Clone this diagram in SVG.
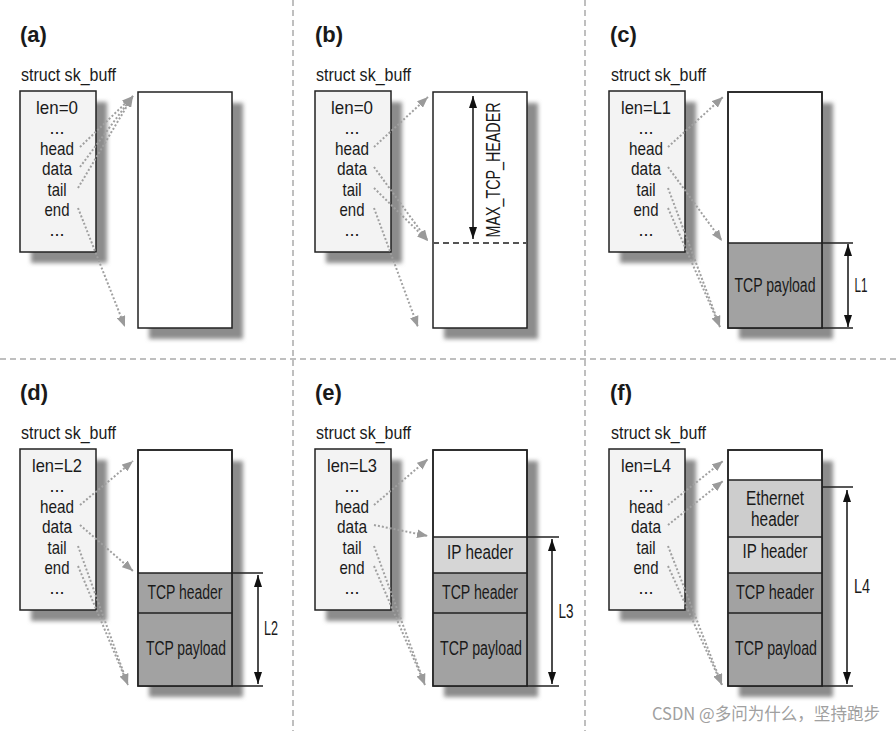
<svg xmlns="http://www.w3.org/2000/svg" width="896" height="731" viewBox="0 0 896 731">
<style>
text{font-family:"Liberation Sans Narrow","Liberation Sans",Arial,sans-serif;font-size:20px;fill:#1a1a1a}
.fld text{font-size:19px}
.lbl{font-weight:bold;font-size:22px}
.c{text-anchor:middle}
.box{fill:#f3f3f3;stroke:#222;stroke-width:1.5}
.buf{fill:#fff;stroke:#222;stroke-width:1.5}
.sh{fill:#8c8c8c;filter:url(#blur)}
.ln{stroke:#222;stroke-width:1.5;fill:none}
.dim{stroke:#111;stroke-width:1.5;fill:none;marker-start:url(#dh);marker-end:url(#dh)}
.tcp{fill:#a2a2a2}
.ip{fill:#d6d6d6}
.eth{fill:#cdcdcd}
.sep{stroke:#aaa;stroke-width:1.5;stroke-dasharray:6 4;fill:none}
.ptr{stroke:#a0a0a0;stroke-width:2;stroke-dasharray:2 2;fill:none;marker-end:url(#ah)}
.wm{font-family:"Noto Sans CJK SC",sans-serif;font-size:17px;fill:#a0a0a0}
</style>
<defs>
<filter id="blur" x="-20%" y="-20%" width="140%" height="140%"><feGaussianBlur stdDeviation="2"/></filter>
<marker id="ah" viewBox="0 0 10 8" refX="10" refY="4" markerWidth="11" markerHeight="9" markerUnits="userSpaceOnUse" orient="auto"><path d="M0,0 L10,4 L0,8 z" fill="#9a9a9a"/></marker>
<marker id="dh" viewBox="0 0 12 8" refX="12" refY="4" markerWidth="12" markerHeight="8" markerUnits="userSpaceOnUse" orient="auto-start-reverse"><path d="M0,0 L12,4 L0,8 z" fill="#111"/></marker>
</defs>
<rect width="896" height="731" fill="#fff"/>

<g id="separators">
<path class="sep" d="M293,0 V731 M585,0 V731 M0,359 H896"/>
</g>

<!-- Panel a -->
<g id="a-label"><text class="lbl" x="20" y="42">(a)</text></g>
<g id="a-struct" class="fld">
<text x="21" y="81" textLength="95" lengthAdjust="spacingAndGlyphs">struct sk_buff</text>
<rect class="sh" x="31" y="102" width="76" height="161"/>
<rect class="box" x="20" y="91" width="76" height="161"/>
<text class="c" x="57" y="114" textLength="42" lengthAdjust="spacingAndGlyphs">len=0</text>
<text class="c" x="57" y="134" textLength="15" lengthAdjust="spacingAndGlyphs">...</text>
<text class="c" x="57" y="155" textLength="34" lengthAdjust="spacingAndGlyphs">head</text>
<text class="c" x="57" y="175" textLength="30" lengthAdjust="spacingAndGlyphs">data</text>
<text class="c" x="57" y="196" textLength="19" lengthAdjust="spacingAndGlyphs">tail</text>
<text class="c" x="57" y="216" textLength="25" lengthAdjust="spacingAndGlyphs">end</text>
<text class="c" x="57" y="236" textLength="15" lengthAdjust="spacingAndGlyphs">...</text>
</g>
<g id="a-buffer">
<rect class="sh" x="149" y="103" width="94" height="236"/>
<rect class="buf" x="138" y="92" width="94" height="236"/>
</g>

<!-- Panel b -->
<g id="b-label"><text class="lbl" x="315" y="42">(b)</text></g>
<g id="b-struct" class="fld">
<text x="316" y="81" textLength="95" lengthAdjust="spacingAndGlyphs">struct sk_buff</text>
<rect class="sh" x="326" y="102" width="76" height="161"/>
<rect class="box" x="315" y="91" width="76" height="161"/>
<text class="c" x="352" y="114" textLength="42" lengthAdjust="spacingAndGlyphs">len=0</text>
<text class="c" x="352" y="134" textLength="15" lengthAdjust="spacingAndGlyphs">...</text>
<text class="c" x="352" y="155" textLength="34" lengthAdjust="spacingAndGlyphs">head</text>
<text class="c" x="352" y="175" textLength="30" lengthAdjust="spacingAndGlyphs">data</text>
<text class="c" x="352" y="196" textLength="19" lengthAdjust="spacingAndGlyphs">tail</text>
<text class="c" x="352" y="216" textLength="25" lengthAdjust="spacingAndGlyphs">end</text>
<text class="c" x="352" y="236" textLength="15" lengthAdjust="spacingAndGlyphs">...</text>
</g>
<g id="b-buffer">
<rect class="sh" x="444" y="103" width="94" height="236"/>
<rect class="buf" x="433" y="92" width="94" height="236"/>
<path d="M433,243 H527" stroke="#555" stroke-width="2" stroke-dasharray="6 4"/>
<path class="dim" d="M473,96 V239"/>
<text class="c" transform="translate(500,170) rotate(-90)" x="0" y="0" textLength="135" lengthAdjust="spacingAndGlyphs">MAX_TCP_HEADER</text>
</g>

<!-- Panel c -->
<g id="c-label"><text class="lbl" x="610" y="42">(c)</text></g>
<g id="c-struct" class="fld">
<text x="611" y="81" textLength="95" lengthAdjust="spacingAndGlyphs">struct sk_buff</text>
<rect class="sh" x="620" y="102" width="76" height="161"/>
<rect class="box" x="609" y="91" width="76" height="161"/>
<text class="c" x="646" y="114" textLength="50" lengthAdjust="spacingAndGlyphs">len=L1</text>
<text class="c" x="646" y="134" textLength="15" lengthAdjust="spacingAndGlyphs">...</text>
<text class="c" x="646" y="155" textLength="34" lengthAdjust="spacingAndGlyphs">head</text>
<text class="c" x="646" y="175" textLength="30" lengthAdjust="spacingAndGlyphs">data</text>
<text class="c" x="646" y="196" textLength="19" lengthAdjust="spacingAndGlyphs">tail</text>
<text class="c" x="646" y="216" textLength="25" lengthAdjust="spacingAndGlyphs">end</text>
<text class="c" x="646" y="236" textLength="15" lengthAdjust="spacingAndGlyphs">...</text>
</g>
<g id="c-buffer">
<rect class="sh" x="739" y="103" width="94" height="236"/>
<rect class="buf" x="728" y="92" width="94" height="236"/>
<rect class="tcp" x="728.75" y="243" width="92.5" height="84.25"/>
<path class="ln" d="M728,243 H853 M822,328 H853"/>
<rect class="ln" x="728" y="92" width="94" height="236"/>
<text class="c" x="775" y="292" textLength="81" lengthAdjust="spacingAndGlyphs">TCP payload</text>
<path class="dim" d="M848,244 V327"/>
<text class="c" x="861" y="292" textLength="13" lengthAdjust="spacingAndGlyphs">L1</text>
</g>

<!-- Panel d -->
<g id="d-label"><text class="lbl" x="20" y="400">(d)</text></g>
<g id="d-struct" class="fld">
<text x="21" y="439" textLength="95" lengthAdjust="spacingAndGlyphs">struct sk_buff</text>
<rect class="sh" x="31" y="460" width="76" height="161"/>
<rect class="box" x="20" y="449" width="76" height="161"/>
<text class="c" x="57" y="472" textLength="50" lengthAdjust="spacingAndGlyphs">len=L2</text>
<text class="c" x="57" y="492" textLength="15" lengthAdjust="spacingAndGlyphs">...</text>
<text class="c" x="57" y="513" textLength="34" lengthAdjust="spacingAndGlyphs">head</text>
<text class="c" x="57" y="533" textLength="30" lengthAdjust="spacingAndGlyphs">data</text>
<text class="c" x="57" y="554" textLength="19" lengthAdjust="spacingAndGlyphs">tail</text>
<text class="c" x="57" y="574" textLength="25" lengthAdjust="spacingAndGlyphs">end</text>
<text class="c" x="57" y="594" textLength="15" lengthAdjust="spacingAndGlyphs">...</text>
</g>
<g id="d-buffer">
<rect class="sh" x="149" y="461" width="94" height="236"/>
<rect class="buf" x="138" y="450" width="94" height="236"/>
<rect class="tcp" x="138.75" y="573" width="92.5" height="112.25"/>
<path class="ln" d="M138,573 H263 M138,613 H232 M232,686 H263"/>
<rect class="ln" x="138" y="450" width="94" height="236"/>
<text class="c" x="185" y="599" textLength="75" lengthAdjust="spacingAndGlyphs">TCP header</text>
<text class="c" x="186" y="655" textLength="80" lengthAdjust="spacingAndGlyphs">TCP payload</text>
<path class="dim" d="M258,575 V684"/>
<text class="c" x="271" y="635" textLength="14" lengthAdjust="spacingAndGlyphs">L2</text>
</g>

<!-- Panel e -->
<g id="e-label"><text class="lbl" x="315" y="400">(e)</text></g>
<g id="e-struct" class="fld">
<text x="316" y="439" textLength="95" lengthAdjust="spacingAndGlyphs">struct sk_buff</text>
<rect class="sh" x="326" y="460" width="76" height="161"/>
<rect class="box" x="315" y="449" width="76" height="161"/>
<text class="c" x="352" y="472" textLength="50" lengthAdjust="spacingAndGlyphs">len=L3</text>
<text class="c" x="352" y="492" textLength="15" lengthAdjust="spacingAndGlyphs">...</text>
<text class="c" x="352" y="513" textLength="34" lengthAdjust="spacingAndGlyphs">head</text>
<text class="c" x="352" y="533" textLength="30" lengthAdjust="spacingAndGlyphs">data</text>
<text class="c" x="352" y="554" textLength="19" lengthAdjust="spacingAndGlyphs">tail</text>
<text class="c" x="352" y="574" textLength="25" lengthAdjust="spacingAndGlyphs">end</text>
<text class="c" x="352" y="594" textLength="15" lengthAdjust="spacingAndGlyphs">...</text>
</g>
<g id="e-buffer">
<rect class="sh" x="444" y="461" width="94" height="236"/>
<rect class="buf" x="433" y="450" width="94" height="236"/>
<rect class="ip" x="433.75" y="537" width="92.5" height="36"/>
<rect class="tcp" x="433.75" y="573" width="92.5" height="112.25"/>
<path class="ln" d="M433,537 H559 M433,573 H527 M433,613 H527 M527,686 H559"/>
<rect class="ln" x="433" y="450" width="94" height="236"/>
<text class="c" x="480" y="559" textLength="66" lengthAdjust="spacingAndGlyphs">IP header</text>
<text class="c" x="480" y="599" textLength="76" lengthAdjust="spacingAndGlyphs">TCP header</text>
<text class="c" x="481" y="655" textLength="82" lengthAdjust="spacingAndGlyphs">TCP payload</text>
<path class="dim" d="M552,539 V684"/>
<text class="c" x="566" y="618" textLength="15" lengthAdjust="spacingAndGlyphs">L3</text>
</g>

<!-- Panel f -->
<g id="f-label"><text class="lbl" x="610" y="400">(f)</text></g>
<g id="f-struct" class="fld">
<text x="611" y="439" textLength="95" lengthAdjust="spacingAndGlyphs">struct sk_buff</text>
<rect class="sh" x="620" y="460" width="76" height="161"/>
<rect class="box" x="609" y="449" width="76" height="161"/>
<text class="c" x="646" y="472" textLength="50" lengthAdjust="spacingAndGlyphs">len=L4</text>
<text class="c" x="646" y="492" textLength="15" lengthAdjust="spacingAndGlyphs">...</text>
<text class="c" x="646" y="513" textLength="34" lengthAdjust="spacingAndGlyphs">head</text>
<text class="c" x="646" y="533" textLength="30" lengthAdjust="spacingAndGlyphs">data</text>
<text class="c" x="646" y="554" textLength="19" lengthAdjust="spacingAndGlyphs">tail</text>
<text class="c" x="646" y="574" textLength="25" lengthAdjust="spacingAndGlyphs">end</text>
<text class="c" x="646" y="594" textLength="15" lengthAdjust="spacingAndGlyphs">...</text>
</g>
<g id="f-buffer">
<rect class="sh" x="739" y="461" width="94" height="236"/>
<rect class="buf" x="728" y="450" width="94" height="236"/>
<rect class="eth" x="728.75" y="480" width="92.5" height="57"/>
<rect class="ip" x="728.75" y="537" width="92.5" height="36"/>
<rect class="tcp" x="728.75" y="573" width="92.5" height="112.25"/>
<path class="ln" d="M728,480 H822 M728,537 H822 M728,573 H822 M728,613 H822 M822,487 H853 M822,686 H853"/>
<rect class="ln" x="728" y="450" width="94" height="236"/>
<text class="c" x="775" y="505" textLength="58" lengthAdjust="spacingAndGlyphs">Ethernet</text>
<text class="c" x="775" y="526" textLength="48" lengthAdjust="spacingAndGlyphs">header</text>
<text class="c" x="775" y="558" textLength="65" lengthAdjust="spacingAndGlyphs">IP header</text>
<text class="c" x="775" y="599" textLength="78" lengthAdjust="spacingAndGlyphs">TCP header</text>
<text class="c" x="776" y="655" textLength="82" lengthAdjust="spacingAndGlyphs">TCP payload</text>
<path class="dim" d="M847,490 V684"/>
<text class="c" x="862" y="593" textLength="16" lengthAdjust="spacingAndGlyphs">L4</text>
</g>

<g id="connectors">
<path class="ptr" d="M80,147 L133,96"/>
<path class="ptr" d="M80,167 L133,96"/>
<path class="ptr" d="M78,188 L133,96"/>
<path class="ptr" d="M78,208 L125,327"/>
<path class="ptr" d="M374,147 L428,97"/>
<path class="ptr" d="M374,167 L428,241"/>
<path class="ptr" d="M374,188 L428,241"/>
<path class="ptr" d="M374,208 L418,327"/>
<path class="ptr" d="M668,147 L723,97"/>
<path class="ptr" d="M668,167 L722,241"/>
<path class="ptr" d="M668,188 L720,327"/>
<path class="ptr" d="M668,208 L720,327"/>
<path class="ptr" d="M80,505 L133,461"/>
<path class="ptr" d="M80,525 L133,571"/>
<path class="ptr" d="M78,546 L128,685"/>
<path class="ptr" d="M78,566 L128,685"/>
<path class="ptr" d="M374,505 L428,459"/>
<path class="ptr" d="M374,525 L428,536"/>
<path class="ptr" d="M374,546 L425,685"/>
<path class="ptr" d="M374,566 L425,685"/>
<path class="ptr" d="M668,505 L723,461"/>
<path class="ptr" d="M668,525 L723,481"/>
<path class="ptr" d="M668,546 L722,685"/>
<path class="ptr" d="M668,566 L722,685"/>
</g>

<g id="watermark">
<text class="wm" x="652" y="720" textLength="228" lengthAdjust="spacingAndGlyphs">CSDN @多问为什么，坚持跑步</text>
</g>
</svg>
